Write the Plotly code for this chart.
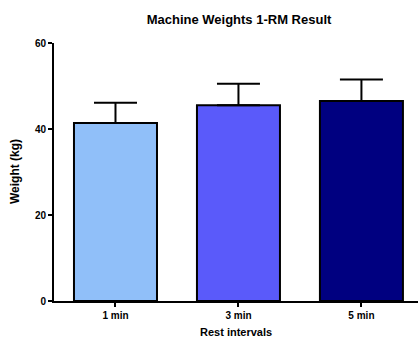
import plotly.graph_objects as go

categories = ["1 min", "3 min", "5 min"]
means = [41.4, 45.5, 46.5]
sd = [4.7, 5.0, 5.0]
colors = ["#90BFF9", "#5A5AFA", "#000080"]
y_ticks = [0, 20, 40, 60]

fig = go.Figure()
fig.add_trace(go.Bar(
    x=categories, y=means,
    marker=dict(color=colors, line=dict(color="black", width=2)),
    width=0.675,
    error_y=dict(type="data", symmetric=False, array=sd, arrayminus=[0]*len(sd),
                 color="black", thickness=2, width=21.5),
))

font_family = "Liberation Sans, Arial, sans-serif"
fig.update_layout(
    width=419, height=339,
    margin=dict(l=54, r=1, t=43, b=38, autoexpand=False),
    plot_bgcolor="white", paper_bgcolor="white",
    showlegend=False,
    title=dict(text="<b>Machine Weights 1-RM Result</b>", x=239/419, xanchor="center",
               y=1 - 19/339, yanchor="middle",
               font=dict(family=font_family, size=13, color="black")),
    font=dict(family=font_family, color="black"),
    annotations=[
        dict(text="<b>Rest intervals</b>", xref="paper", yref="paper",
             x=0.5, y=-31/258, xanchor="center", yanchor="middle", showarrow=False,
             font=dict(size=11, family=font_family, color="black")),
        dict(text="<b>Weight (kg)</b>", xref="paper", yref="paper",
             x=-39/364, y=0.5, xanchor="center", yanchor="middle", showarrow=False,
             textangle=-90, font=dict(size=12, family=font_family, color="black")),
    ],
)
fig.update_xaxes(
    range=[-0.5, 2.46], showline=True, linecolor="black", linewidth=2,
    ticks="outside", ticklen=4, tickwidth=1.5, tickcolor="black",
    tickfont=dict(size=10, family=font_family),
    tickvals=categories, ticktext=[f"<b>{c}</b>" for c in categories],
    showgrid=False, zeroline=False, automargin=False,
)
fig.update_yaxes(
    range=[0, 60], showline=True, linecolor="black", linewidth=2,
    ticks="outside", ticklen=4, tickwidth=1.5, tickcolor="black",
    tickvals=y_ticks, ticktext=[f"<b>{v}</b>" for v in y_ticks],
    tickfont=dict(size=10, family=font_family),
    showgrid=False, zeroline=False, automargin=False,
)

fig.write_html("out.html", config={"displayModeBar": False},
               post_script="document.body.style.margin='0';document.body.style.padding='0';")
